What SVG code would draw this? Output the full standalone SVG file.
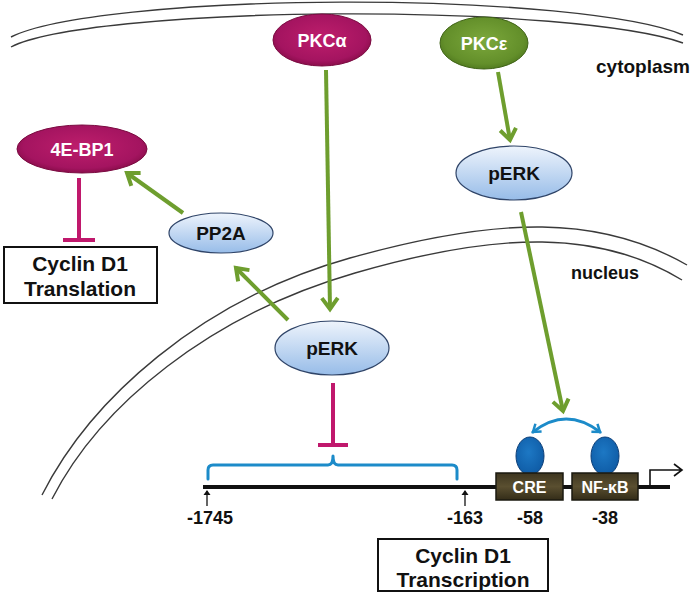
<svg xmlns="http://www.w3.org/2000/svg" width="693" height="596" viewBox="0 0 693 596">
<style>
.mem{fill:none;stroke:#3a3a3a;stroke-width:1.4}
.g{fill:none;stroke:#6E9E2E;stroke-width:4;stroke-linecap:butt}
.inh{fill:none;stroke:#C0186C;stroke-width:4}
.bl{fill:none;stroke:#1C8BC9;stroke-width:3;stroke-linecap:round;stroke-linejoin:round}
.t{font-family:"Liberation Sans",Arial,sans-serif;font-weight:bold;text-anchor:middle}
.w{fill:#fff}
.k{fill:#111}
.benode{stroke:#2F4468;stroke-width:1.2}
.box{fill:#fff;stroke:#111;stroke-width:2}
.dna{fill:url(#dg);stroke:#1b1a10;stroke-width:1.5}
.oval{fill:url(#og);stroke:#0d3f78;stroke-width:1}
</style>
<defs>
<linearGradient id="bg" x1="0" y1="0" x2="0" y2="1"><stop offset="0" stop-color="#EEF4FC"/><stop offset="1" stop-color="#97BCE8"/></linearGradient>
<radialGradient id="cg" cx="0.5" cy="0.45" r="0.6"><stop offset="0" stop-color="#BE1E6C"/><stop offset="0.75" stop-color="#A41460"/><stop offset="1" stop-color="#7F0A42"/></radialGradient>
<radialGradient id="gg" cx="0.5" cy="0.45" r="0.6"><stop offset="0" stop-color="#7CA83C"/><stop offset="0.75" stop-color="#638F2A"/><stop offset="1" stop-color="#4A731B"/></radialGradient>
<linearGradient id="dg" x1="0" y1="0" x2="0" y2="1"><stop offset="0" stop-color="#3E3620"/><stop offset="0.5" stop-color="#5A4F30"/><stop offset="1" stop-color="#332C18"/></linearGradient>
<radialGradient id="og" cx="0.45" cy="0.4" r="0.6"><stop offset="0" stop-color="#1D78C4"/><stop offset="1" stop-color="#0F5CA6"/></radialGradient>
<marker id="ga" viewBox="0 0 24 24" refX="18" refY="12" markerWidth="24" markerHeight="24" markerUnits="userSpaceOnUse" orient="auto"><path d="M7,4 L18,12 L7,20" fill="none" stroke="#6E9E2E" stroke-width="4"/></marker>
<marker id="ba" viewBox="0 0 16 16" refX="12" refY="8" markerWidth="16" markerHeight="16" markerUnits="userSpaceOnUse" orient="auto-start-reverse"><path d="M5,3 L12,8 L5,13" fill="none" stroke="#1C8BC9" stroke-width="2.5"/></marker>
<marker id="ka" viewBox="0 0 10 10" refX="5" refY="1" markerWidth="10" markerHeight="10" markerUnits="userSpaceOnUse" orient="0"><path d="M1.5,5 L5,0 L8.5,5 Z" fill="#111"/></marker>
</defs>
<rect width="693" height="596" fill="#fff"/>
<g id="membranes">
<path class="mem" d="M11,37 A350,47 0 0 1 683,35"/>
<path class="mem" d="M11,47 A350,43 0 0 1 683,43"/>
<path class="mem" d="M42,495 C90,400 200,300 350,258 S600,215 687,265"/>
<path class="mem" d="M52,499 C100,405 210,315 355,273 S600,230 682,280"/>
<text class="t k" x="643" y="73" font-size="19">cytoplasm</text>
<text class="t k" x="605" y="279" font-size="18">nucleus</text>
</g>
<g id="connectors">
<line class="g" x1="326" y1="70" x2="330" y2="309" marker-end="url(#ga)"/>
<line class="g" x1="498" y1="72" x2="510" y2="140" marker-end="url(#ga)"/>
<line class="g" x1="521" y1="212" x2="563" y2="411" marker-end="url(#ga)"/>
<line class="g" x1="288" y1="320" x2="236" y2="268" marker-end="url(#ga)"/>
<line class="g" x1="183" y1="213" x2="127" y2="173" marker-end="url(#ga)"/>
<path class="inh" d="M79,178 V240 M63,240 H95"/>
<path class="inh" d="M333,383 V445 M318,445 H348"/>
<path class="bl" d="M208,479 V470 Q208,465 213,465 H328 Q333,465 333,456 Q333,465 338,465 H452 Q457,465 457,470 V479"/>
<path class="bl" d="M533,432 Q566,406 600,432" marker-start="url(#ba)" marker-end="url(#ba)"/>
</g>
<g id="PKCa"><ellipse cx="322" cy="40" rx="49" ry="26" fill="url(#cg)" stroke="#7a0a40" stroke-width="1"/><text class="t w" x="322" y="47" font-size="18">PKCα</text></g>
<g id="PKCe"><ellipse cx="484" cy="43" rx="44" ry="26" fill="url(#gg)" stroke="#3f6316" stroke-width="1"/><text class="t w" x="484" y="50" font-size="18">PKCε</text></g>
<g id="pERK_cyt"><ellipse class="benode" cx="514" cy="173" rx="58" ry="27" fill="url(#bg)"/><text class="t k" x="514" y="180" font-size="19">pERK</text></g>
<g id="pERK_nuc"><ellipse class="benode" cx="332" cy="348" rx="57" ry="27" fill="url(#bg)"/><text class="t k" x="332" y="355" font-size="19">pERK</text></g>
<g id="PP2A"><ellipse class="benode" cx="221" cy="233" rx="52" ry="20" fill="url(#bg)"/><text class="t k" x="221" y="240" font-size="19">PP2A</text></g>
<g id="EBP1"><ellipse cx="82" cy="149" rx="65" ry="24" fill="url(#cg)" stroke="#7a0a40" stroke-width="1"/><text class="t w" x="82" y="156" font-size="18">4E-BP1</text></g>
<g id="translation"><rect class="box" x="4" y="247" width="153" height="56"/><text class="t k" x="80" y="271" font-size="21">Cyclin D1</text><text class="t k" x="80" y="296" font-size="21">Translation</text></g>
<g id="promoter">
<line x1="203" y1="487" x2="670" y2="487" stroke="#111" stroke-width="4"/>
<path d="M650,487 V470 H681 M674,464 L682,470 L674,476" fill="none" stroke="#111" stroke-width="1.6"/>
<line x1="207" y1="506" x2="207" y2="491" stroke="#111" stroke-width="1.3" marker-end="url(#ka)"/>
<line x1="465" y1="506" x2="465" y2="491" stroke="#111" stroke-width="1.3" marker-end="url(#ka)"/>
<text class="t k" x="210" y="524" font-size="18">-1745</text>
<text class="t k" x="465" y="524" font-size="18">-163</text>
</g>
<g id="CRE"><ellipse class="oval" cx="530" cy="456" rx="14" ry="19"/><rect class="dna" x="496" y="473" width="67" height="27"/><text class="t w" x="529.5" y="493" font-size="16" font-weight="normal">CRE</text><text class="t k" x="530" y="524" font-size="18">-58</text></g>
<g id="NFkB"><ellipse class="oval" cx="605" cy="456" rx="14" ry="19"/><rect class="dna" x="572" y="473" width="66" height="27"/><text class="t w" x="605" y="493" font-size="16" font-weight="normal">NF-κB</text><text class="t k" x="605" y="524" font-size="18">-38</text></g>
<g id="transcription"><rect class="box" x="378" y="539" width="170" height="52"/><text class="t k" x="463" y="563" font-size="21">Cyclin D1</text><text class="t k" x="463" y="587" font-size="21">Transcription</text></g>
</svg>
